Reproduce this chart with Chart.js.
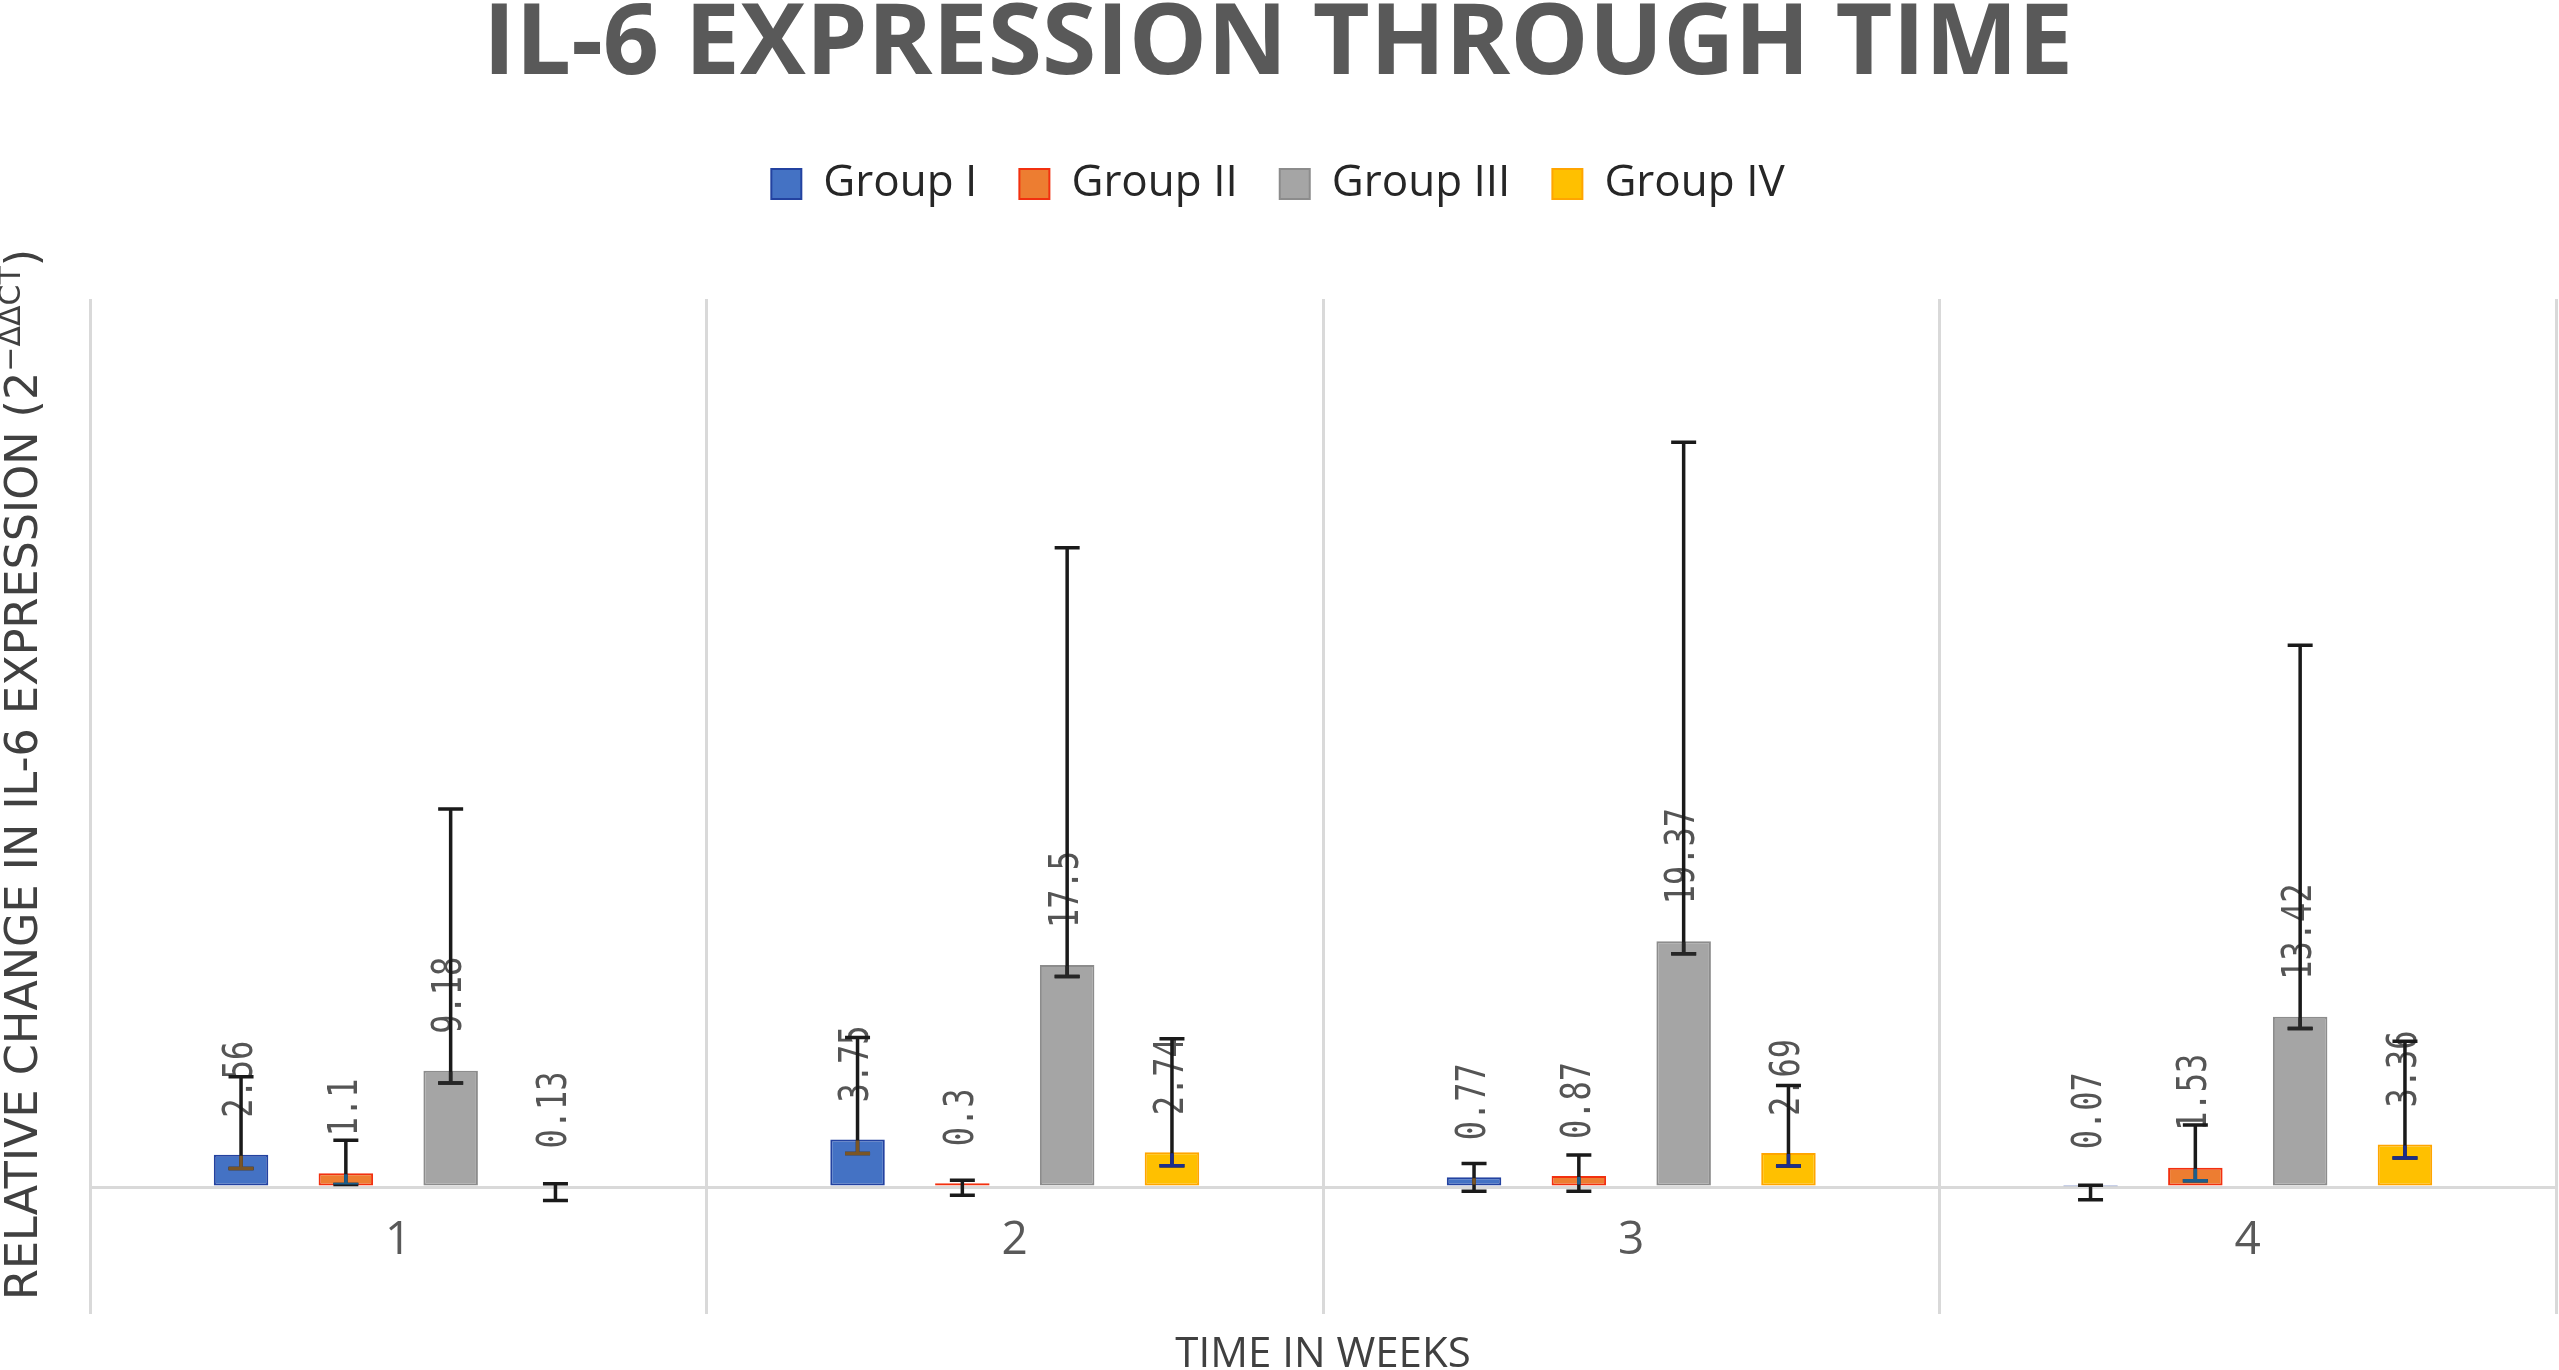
<!DOCTYPE html>
<html>
<head>
<meta charset="utf-8">
<title>IL-6 expression through time</title>
<script src="https://cdn.jsdelivr.net/npm/chart.js@4.4.0/dist/chart.umd.min.js"></script>
<style>
  html, body { margin: 0; padding: 0; background: #fff; overflow: hidden; }
  #wrap { width: 2559px; height: 1370px; position: relative; }
</style>
</head>
<body>
<div id="wrap"><canvas id="il6Chart"></canvas></div>
<script>
// weeks on the x axis
const weeks = ['1', '2', '3', '4'];
const groupNames = ['Group I', 'Group II', 'Group III', 'Group IV'];

// mean relative change (2^-ddCT) per week
const groupI = [2.56, 3.75, 0.77, 0.07];
const groupII = [1.1, 0.3, 0.87, 1.53];
const groupIII = [9.18, 17.5, 19.37, 13.42];
const groupIV = [0.13, 2.74, 2.69, 3.36];

// error bar ends (lower / upper)
const errLowI = [1.47, 2.64, -0.32, -1.0];
const errHighI = [8.7, 11.8, 1.87, 0.15];
const errLowII = [0.2, -0.65, -0.32, 0.5];
const errHighII = [3.7, 0.55, 2.54, 4.9];
const errLowIII = [8.2, 16.6, 18.4, 12.5];
const errHighIII = [29.8, 50.4, 58.7, 42.7];
const errLowIV = [-1.06, 1.68, 1.66, 2.3];
const errHighIV = [0.26, 11.7, 8.0, 11.5];

const yMin = -10;
const yMax = 70;

const fills = ['#4472C4', '#ED7D31', '#A5A5A5', '#FFC000'];
const borders = ['#2342A0', '#F2300F', '#8C8C8C', '#FFA500'];
const innerErr = ['#7A5525', '#1B5E8C', '#262626', '#1C2E8C'];

const series = [groupI, groupII, groupIII, groupIV];
const errLow = [errLowI, errLowII, errLowIII, errLowIV];
const errHigh = [errHighI, errHighII, errHighIII, errHighIV];

// extra room under the legend (Excel leaves a big gap before the plot)
const legendSpace = {
    id: 'legendSpace',
    beforeLayout(chart) {
        const lg = chart.legend;
        if (lg && !lg._spaced) {
            const fit = lg.fit;
            lg.fit = function () {
                fit.call(this);
                this.height += 83;
            };
            lg._spaced = true;
        }
    }
};

// rotated value labels + error bars
const barExtras = {
    id: 'barExtras',
    afterDatasetsDraw(chart) {
        const ctx = chart.ctx;
        const yScale = chart.scales.y;

        // labels first, error bars drawn over them
        chart.data.datasets.forEach((ds, i) => {
            chart.getDatasetMeta(i).data.forEach((el, j) => {
                ctx.save();
                ctx.translate(el.x, el.y - 37);
                ctx.rotate(-Math.PI / 2);
                ctx.scale(0.78, 1);
                ctx.font = '41px "DejaVu Sans Mono"';
                ctx.fillStyle = '#555555';
                ctx.textAlign = 'left';
                ctx.textBaseline = 'middle';
                ctx.fillText(String(ds.data[j]), 0, 0);
                ctx.restore();
            });
        });

        chart.data.datasets.forEach((ds, i) => {
            chart.getDatasetMeta(i).data.forEach((el, j) => {
                const x = el.x;
                const yLo = yScale.getPixelForValue(errLow[i][j]);
                const yHi = yScale.getPixelForValue(errHigh[i][j]);
                const draw = (color) => {
                    ctx.strokeStyle = color;
                    ctx.lineWidth = 3.5;
                    ctx.beginPath();
                    ctx.moveTo(x, yLo);
                    ctx.lineTo(x, yHi);
                    ctx.moveTo(x - 12.5, yLo);
                    ctx.lineTo(x + 12.5, yLo);
                    ctx.moveTo(x - 12.5, yHi);
                    ctx.lineTo(x + 12.5, yHi);
                    ctx.stroke();
                };
                ctx.save();
                draw('#1a1a1a');
                // part inside the bar shows in a different tint, like the source
                const top = Math.min(el.y, el.base);
                const h = Math.abs(el.base - el.y);
                if (h > 4) {
                    ctx.beginPath();
                    ctx.rect(x - el.width / 2 + 1, top + 1, el.width - 2, h - 2);
                    ctx.clip();
                    draw(innerErr[i]);
                }
                ctx.restore();
            });
        });
    },
    afterDraw(chart) {
        // y axis title with superscript exponent
        const ctx = chart.ctx;
        const area = chart.chartArea;
        ctx.save();
        ctx.translate(25, area.bottom - 14);
        ctx.rotate(-Math.PI / 2);
        ctx.fillStyle = '#404040';
        ctx.textAlign = 'left';
        ctx.textBaseline = 'middle';
        const main = 'RELATIVE CHANGE IN IL-6 EXPRESSION (2';
        ctx.font = '44.5px "DejaVu Sans"';
        ctx.fillText(main, 0, 0);
        let w = ctx.measureText(main).width;
        ctx.font = '30px "DejaVu Sans"';
        ctx.fillText('\u2212\u0394\u0394CT', w, -13);
        w += ctx.measureText('\u2212\u0394\u0394CT').width;
        ctx.font = '44.5px "DejaVu Sans"';
        ctx.fillText(')', w, 0);
        ctx.restore();
    }
};

new Chart(document.getElementById('il6Chart'), {
    type: 'bar',
    data: {
        labels: weeks,
        datasets: series.map((vals, i) => ({
            label: groupNames[i],
            data: vals,
            backgroundColor: fills[i],
            borderColor: borders[i],
            borderWidth: 2,
            borderSkipped: false,
            categoryPercentage: 0.68,
            barPercentage: 0.52
        }))
    },
    options: {
        responsive: true,
        maintainAspectRatio: false,
        animation: false,
        layout: {
            padding: { top: 0, right: 3, bottom: 0, left: 0 }
        },
        plugins: {
            title: {
                display: true,
                text: 'IL-6 EXPRESSION THROUGH TIME',
                color: '#595959',
                font: { family: 'Open Sans', size: 98.5, weight: 'bold', lineHeight: 0.7 },
                padding: { top: 11, bottom: 40 }
            },
            legend: {
                display: true,
                position: 'top',
                labels: {
                    color: '#262626',
                    font: { family: 'Open Sans', size: 44 },
                    boxWidth: 30,
                    boxHeight: 30,
                    padding: 42
                }
            },
            tooltip: { enabled: false }
        },
        scales: {
            x: {
                grid: {
                    color: '#d9d9d9',
                    lineWidth: 3,
                    offset: true,
                    drawTicks: false
                },
                border: { display: false },
                ticks: {
                    color: '#595959',
                    font: { family: 'Open Sans', size: 46 },
                    mirror: true,
                    padding: 46
                },
                title: {
                    display: true,
                    text: 'TIME IN WEEKS',
                    color: '#404040',
                    font: { family: 'Open Sans', size: 42 },
                    padding: { top: 0, bottom: -10 }
                },
                afterFit: (s) => { s.height = 56; }
            },
            y: {
                min: yMin,
                max: yMax,
                grid: {
                    color: (c) => (c.tick && c.tick.value === 0 ? '#d9d9d9' : 'rgba(0,0,0,0)'),
                    lineWidth: 3,
                    drawTicks: false
                },
                border: { display: false },
                ticks: { display: false, stepSize: 10 },
                afterFit: (s) => { s.width = 90; }
            }
        }
    },
    plugins: [legendSpace, barExtras]
});
</script>
</body>
</html>
